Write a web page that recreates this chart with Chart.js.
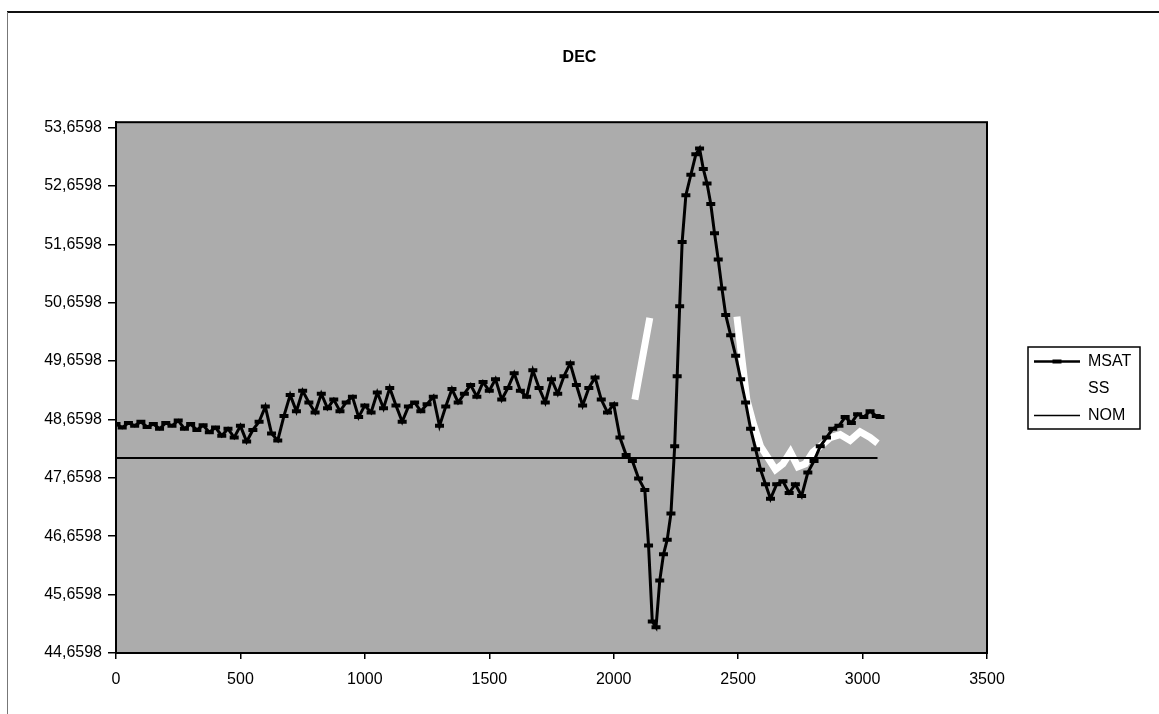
<!DOCTYPE html>
<html>
<head>
<meta charset="utf-8">
<title>DEC</title>
<script src="https://cdn.jsdelivr.net/npm/chart.js@4.4.1/dist/chart.umd.min.js"></script>
<style>
  html, body { margin: 0; padding: 0; background: #fff; }
  #wrap { position: relative; width: 1159px; height: 714px; }
</style>
</head>
<body>
<div id="wrap"><canvas id="decChart" width="1159" height="714"></canvas></div>
<script>
// axis ticks
var xTicks = [0, 500, 1000, 1500, 2000, 2500, 3000, 3500];
var yTicks = [44.6598, 45.6598, 46.6598, 47.6598, 48.6598, 49.6598, 50.6598, 51.6598, 52.6598, 53.6598];

// MSAT series
var msatX = [0, 25, 50, 75, 100, 125, 150, 175, 200, 225, 250, 275, 300, 325, 350, 375, 400, 425, 450, 475,
  500, 525, 550, 575, 600, 625, 650, 675, 700, 725, 750, 775, 800, 825, 850, 875, 900, 925, 950, 975,
  1000, 1025, 1050, 1075, 1100, 1125, 1150, 1175, 1200, 1225, 1250, 1275, 1300, 1325, 1350, 1375, 1400, 1425, 1450, 1475,
  1500, 1525, 1550, 1575, 1600, 1625, 1650, 1675, 1700, 1725, 1750, 1775, 1800, 1825, 1850, 1875, 1900, 1925, 1950, 1975,
  2000, 2025, 2050, 2075, 2100, 2125, 2140, 2155, 2170, 2185, 2200, 2215, 2230, 2245, 2255, 2265, 2275, 2290, 2310, 2330,
  2345, 2360, 2375, 2390, 2405, 2420, 2435, 2450, 2470, 2490, 2510, 2530, 2550, 2570, 2590, 2610, 2630, 2655, 2680, 2705,
  2730, 2755, 2780, 2805, 2830, 2855, 2880, 2905, 2930, 2955, 2980, 3005, 3030, 3055, 3070];
var msatY = [48.58, 48.52, 48.60, 48.55, 48.62, 48.53, 48.58, 48.50, 48.60, 48.55, 48.64, 48.50, 48.58, 48.48, 48.56, 48.44, 48.52, 48.38, 48.50, 48.35,
  48.55, 48.28, 48.48, 48.62, 48.88, 48.42, 48.30, 48.72, 49.08, 48.80, 49.15, 48.95, 48.78, 49.10, 48.85, 49.00, 48.80, 48.95, 49.05, 48.70,
  48.90, 48.78, 49.12, 48.85, 49.20, 48.90, 48.62, 48.88, 48.95, 48.80, 48.92, 49.05, 48.55, 48.88, 49.18, 48.95, 49.10, 49.25, 49.05, 49.30,
  49.15, 49.35, 49.00, 49.20, 49.45, 49.15, 49.05, 49.50, 49.20, 48.95, 49.35, 49.10, 49.40, 49.62, 49.25, 48.90, 49.20, 49.38, 49.00, 48.78,
  48.92, 48.35, 48.05, 47.95, 47.65, 47.45, 46.50, 45.20, 45.10, 45.90, 46.35, 46.60, 47.05, 48.20, 49.40, 50.60, 51.70, 52.50, 52.85, 53.20,
  53.30, 52.95, 52.70, 52.35, 51.85, 51.40, 50.90, 50.45, 50.10, 49.75, 49.35, 48.95, 48.50, 48.15, 47.80, 47.55, 47.30, 47.55, 47.60, 47.40,
  47.55, 47.35, 47.75, 47.95, 48.20, 48.35, 48.50, 48.55, 48.70, 48.60, 48.75, 48.70, 48.80, 48.72, 48.70];

// SS series (white line, gaps where it is not visible)
var ssX = [2085, 2115, 2145, 2200, 2495, 2515, 2535, 2560, 2590, 2620, 2650, 2680, 2710, 2740, 2770, 2800, 2830, 2870, 2910, 2950, 2990, 3030, 3060];
var ssY = [49.00, 49.70, 50.40, null, 50.42, 49.70, 49.00, 48.60, 48.20, 48.00, 47.80, 47.90, 48.10, 47.85, 47.90, 48.10, 48.20, 48.35, 48.40, 48.30, 48.45, 48.35, 48.25];

// NOM series
var nomX = [0, 3060];
var nomY = [48.0, 48.0];

var fontFamily = '"Liberation Sans", Arial, Helvetica, sans-serif';

function toPoints(xs, ys) {
    return xs.map(function (x, i) { return { x: x, y: ys[i] } })
}

var plotBackground = {
    id: 'plotBackground',
    beforeDraw(chart) {
        var a = chart.chartArea
        var ctx = chart.ctx
        ctx.save()
        ctx.fillStyle = '#fff'
        ctx.fillRect(0, 0, chart.width, chart.height)
        // outer chart frame (only top and left edges are on the page)
        ctx.strokeStyle = '#111'
        ctx.lineWidth = 2
        ctx.beginPath()
        ctx.moveTo(7, 12)
        ctx.lineTo(chart.width, 12)
        ctx.stroke()
        ctx.strokeStyle = '#777'
        ctx.lineWidth = 1
        ctx.beginPath()
        ctx.moveTo(7.5, 12)
        ctx.lineTo(7.5, chart.height)
        ctx.stroke()
        ctx.fillStyle = '#acacac'
        ctx.fillRect(a.left, a.top, a.right - a.left, a.bottom - a.top)
        ctx.restore()
    },
    afterDraw(chart) {
        var a = chart.chartArea
        var ctx = chart.ctx
        ctx.save()
        ctx.strokeStyle = '#000'
        ctx.lineWidth = 2
        ctx.strokeRect(a.left, a.top, a.right - a.left, a.bottom - a.top)
        ctx.restore()
    }
}

// Excel style legend: boxed, vertically centred right of the plot
var boxLegend = {
    id: 'boxLegend',
    afterDraw(chart) {
        var a = chart.chartArea
        var ctx = chart.ctx
        var sets = chart.data.datasets
        var rowH = 27
        var left = a.right + 41
        var width = 112
        var height = rowH * sets.length + 1
        var top = Math.round((a.top + a.bottom) / 2 - height / 2)
        ctx.save()
        ctx.fillStyle = '#fff'
        ctx.fillRect(left, top, width, height)
        ctx.strokeStyle = '#000'
        ctx.lineWidth = 1.5
        ctx.strokeRect(left, top, width, height)
        ctx.font = '16px ' + fontFamily
        ctx.textBaseline = 'middle'
        sets.forEach(function (ds, i) {
            var y = top + rowH * i + rowH / 2 + 1
            ctx.strokeStyle = ds.borderColor
            ctx.lineWidth = ds.legendWidth
            ctx.beginPath()
            ctx.moveTo(left + 6, y)
            ctx.lineTo(left + 52, y)
            ctx.stroke()
            if (ds.pointRadius > 0) {
                ctx.lineWidth = ds.pointBorderWidth
                ctx.beginPath()
                ctx.moveTo(left + 29 - ds.pointRadius, y)
                ctx.lineTo(left + 29 + ds.pointRadius, y)
                ctx.stroke()
            }
            ctx.fillStyle = '#000'
            ctx.fillText(ds.label, left + 60, y)
        })
        ctx.restore()
    }
}

var ctx = document.getElementById('decChart')
var chart = new Chart(ctx, {
    type: 'line',
    data: {
        datasets: [{
            label: 'MSAT',
            data: toPoints(msatX, msatY),
            borderColor: '#000',
            backgroundColor: '#000',
            borderWidth: 3,
            legendWidth: 2.5,
            pointStyle: 'line',
            pointRadius: 4.5,
            pointBorderWidth: 4,
            pointBorderColor: '#000',
            tension: 0,
            order: 1
        }, {
            label: 'SS',
            data: toPoints(ssX, ssY),
            borderColor: '#fff',
            backgroundColor: '#fff',
            borderWidth: 7,
            legendWidth: 3,
            pointRadius: 0,
            spanGaps: false,
            tension: 0,
            order: 3
        }, {
            label: 'NOM',
            data: toPoints(nomX, nomY),
            borderColor: '#000',
            backgroundColor: '#000',
            borderWidth: 2,
            legendWidth: 1.5,
            pointRadius: 0,
            tension: 0,
            order: 2
        }]
    },
    options: {
        responsive: false,
        animation: false,
        devicePixelRatio: 1,
        layout: { padding: 0 },
        plugins: {
            legend: { display: false },
            tooltip: { enabled: false },
            title: {
                display: true,
                text: 'DEC',
                color: '#000',
                font: { family: fontFamily, size: 16, weight: 'bold' },
                padding: { top: 48, bottom: 55 }
            }
        },
        scales: {
            x: {
                type: 'linear',
                position: 'bottom',
                min: 0,
                max: 3500,
                afterBuildTicks: function (scale) {
                    scale.ticks = xTicks.map(function (v) { return { value: v } })
                },
                afterFit: function (scale) { scale.height = 61 },
                ticks: {
                    color: '#000',
                    font: { family: fontFamily, size: 16 },
                    padding: 11,
                    maxRotation: 0,
                    autoSkip: false,
                    callback: function (v) { return String(v) }
                },
                grid: { drawOnChartArea: false, drawTicks: true, tickLength: 6, color: '#000', lineWidth: 1.5 },
                border: { display: true, color: '#000', width: 2 }
            },
            y: {
                type: 'linear',
                position: 'left',
                min: 44.6598,
                max: 53.75,
                afterBuildTicks: function (scale) {
                    scale.ticks = yTicks.map(function (v) { return { value: v } })
                },
                afterFit: function (scale) { scale.width = 116 },
                ticks: {
                    color: '#000',
                    font: { family: fontFamily, size: 16 },
                    padding: 6,
                    autoSkip: false,
                    callback: function (v) { return v.toFixed(4).replace('.', ',') }
                },
                grid: { drawOnChartArea: false, drawTicks: true, tickLength: 8, color: '#000', lineWidth: 1.5 },
                border: { display: true, color: '#000', width: 2 }
            },
            // empty right-hand axis that keeps room for the legend
            legendRoom: {
                type: 'linear',
                position: 'right',
                display: true,
                min: 0,
                max: 1,
                afterFit: function (scale) { scale.width = 172 },
                ticks: { display: false },
                grid: { display: false },
                border: { display: false }
            }
        }
    },
    plugins: [plotBackground, boxLegend]
});
</script>
</body>
</html>
